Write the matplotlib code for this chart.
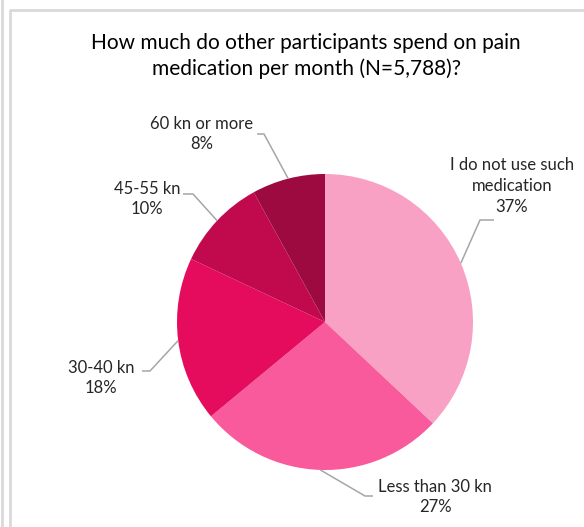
import numpy as np
import matplotlib
matplotlib.use('Agg')
import matplotlib.pyplot as plt

# Survey answers, clockwise from the top of the pie
categories = ['I do not use such\nmedication', 'Less than 30 kn', '30-40 kn', '45-55 kn', '60 kn or more']
shares = [37, 27, 18, 10, 8]
colors = ['#F9A1C5', '#F85A9B', '#E50C5E', '#C10A4E', '#9C0A3F']

title = 'How much do other participants spend on pain\nmedication per month (N=5,788)?'

# Label placement (pixel coords, y measured downward) and leader elbows
label_pos = [(512, 186), (435, 497), (101, 378), (147, 199), (202, 134)]
elbows = [((480, 220), (494, 220)),
          ((365, 496), (373, 496)),
          ((150, 371), (142, 371)),
          ((193, 194), (183, 194)),
          ((264, 134), (257, 134))]

W, H = 584, 527
cx, cy, r = 325, 322, 148

plt.rcParams['font.family'] = ['Lato', 'DejaVu Sans']

fig = plt.figure(figsize=(W / 100, H / 100), dpi=100)
ax = fig.add_axes([0, 0, 1, 1])

wedges, _ = ax.pie(shares, colors=colors, startangle=90, counterclock=False,
                   center=(cx, H - cy), radius=r,
                   wedgeprops=dict(linewidth=0))
ax.set_xlim(0, W)
ax.set_ylim(0, H)
ax.set_aspect('equal')
ax.axis('off')

# Leader lines from each wedge's mid-angle to its label
for w, lab, val, xy, (e1, e2) in zip(wedges, categories, shares, label_pos, elbows):
    mid = np.deg2rad((w.theta1 + w.theta2) / 2)
    px = cx + r * np.cos(mid)
    py = (H - cy) + r * np.sin(mid)
    ax.plot([px, e1[0], e2[0]], [py, H - e1[1], H - e2[1]],
            color='#A6A6A6', lw=1.1, solid_capstyle='butt')
    ax.text(xy[0], H - xy[1], f'{lab}\n{val}%', ha='center', va='center',
            fontsize=12, color='#262626', linespacing=1.35)

ax.text(306, H - 56, title, ha='center', va='center', fontsize=15,
        color='#000000', linespacing=1.3)

# Light gray frame lines
gray = '#D9D9D9'
ax.plot([1.5, 1.5], [0, H], color=gray, lw=2)
ax.plot([10, 10, W], [0, H - 10, H - 10], color=gray, lw=2)

fig.savefig('out.png', dpi=100)
